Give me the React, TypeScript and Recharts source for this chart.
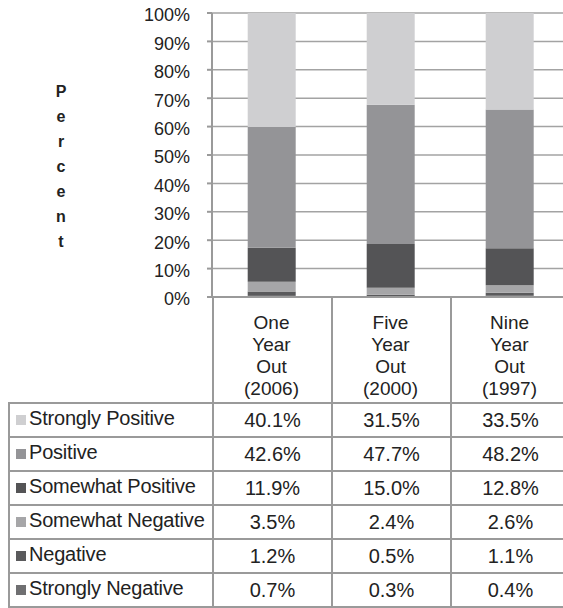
import { BarChart, Bar, XAxis, YAxis, CartesianGrid } from 'recharts';

const categories = ["One Year Out (2006)", "Five Year Out (2000)", "Nine Year Out (1997)"];
const categoryLines = [
  ["One", "Year", "Out", "(2006)"],
  ["Five", "Year", "Out", "(2000)"],
  ["Nine", "Year", "Out", "(1997)"],
];

// bottom of stack first
const seriesNames = [
  "Strongly Negative",
  "Negative",
  "Somewhat Negative",
  "Somewhat Positive",
  "Positive",
  "Strongly Positive",
];
const stronglyNegative = [0.7, 0.3, 0.4];
const negative = [1.2, 0.5, 1.1];
const somewhatNegative = [3.5, 2.4, 2.6];
const somewhatPositive = [11.9, 15.0, 12.8];
const positive = [42.6, 47.7, 48.2];
const stronglyPositive = [40.1, 31.5, 33.5];

const seriesValues = [stronglyNegative, negative, somewhatNegative, somewhatPositive, positive, stronglyPositive];
const seriesColors = ["#6f6f71", "#5a5a5c", "#a6a6a8", "#545456", "#949497", "#cfcfd1"];

const yTicks = [0, 0.1, 0.2, 0.3, 0.4, 0.5, 0.6, 0.7, 0.8, 0.9, 1];

const data = categories.map((c, i) => {
  const row: any = { name: c, idx: i };
  seriesNames.forEach((s, k) => { row[s] = seriesValues[k][i]; });
  return row;
});

// table rows go top-down (Strongly Positive first)
const tableOrder = [5, 4, 3, 2, 1, 0];

const FONT = '"Liberation Sans", Arial, sans-serif';
const LINE = "#9a9a9a";

const CategoryTick = (props: any) => {
  const { x, y, payload } = props;
  const lines = categoryLines[payload.index] || [payload.value];
  return (
    <text x={x} y={y} textAnchor="middle" fontSize={19} fill="#222" fontFamily={FONT}>
      {lines.map((l: string, i: number) => (
        <tspan key={i} x={x} dy={i === 0 ? 24 : 22}>{l}</tspan>
      ))}
    </text>
  );
};

export default function App() {
  return (
    <div style={{ position: 'absolute', left: 0, top: 0, width: 563, height: 608, overflow: 'hidden', background: '#fff', fontFamily: FONT, color: '#222' }}>
      <div style={{ position: 'absolute', left: 52, top: 79, width: 18, textAlign: 'center', fontWeight: 'bold', fontSize: 16, lineHeight: '25px' }}>
        {"Percent".split("").map((ch, i) => <div key={i}>{ch}</div>)}
      </div>
      <div style={{ position: 'absolute', left: 0, top: 0 }}>
        <BarChart width={580} height={403} data={data} stackOffset="expand" barCategoryGap="30%"
          margin={{ top: 13, right: 11, left: 0, bottom: 0 }}>
          <CartesianGrid vertical={false} stroke="#a3a3a3" strokeWidth={1.5} />
          <XAxis dataKey="name" height={106} tickLine={false} axisLine={{ stroke: LINE, strokeWidth: 2 }}
            tick={<CategoryTick />} interval={0} />
          <YAxis width={212} domain={[0, 1]} ticks={yTicks} tickSize={5} tickMargin={17}
            tickFormatter={(v: number) => `${Math.round(v * 100)}%`}
            axisLine={{ stroke: LINE, strokeWidth: 2 }} tickLine={{ stroke: LINE, strokeWidth: 2 }}
            tick={{ fontSize: 18, fill: '#222', fontFamily: FONT, dy: 2 }} />
          {seriesNames.map((s, k) => (
            <Bar key={s} dataKey={s} stackId="a" fill={seriesColors[k]} isAnimationActive={false} />
          ))}
        </BarChart>
      </div>
      <table style={{ position: 'absolute', left: 8, top: 297, borderCollapse: 'collapse', tableLayout: 'fixed', width: 561, fontSize: 20 }}>
        <colgroup>
          <col style={{ width: 204 }} />
          <col style={{ width: 119 }} />
          <col style={{ width: 119 }} />
          <col style={{ width: 119 }} />
        </colgroup>
        <tbody>
          <tr style={{ height: 106 }}>
            <td style={{ border: 'none', padding: 0 }}></td>
            {categories.map((c) => (
              <td key={c} style={{ borderLeft: `2px solid ${LINE}`, borderRight: `2px solid ${LINE}`, padding: 0 }}></td>
            ))}
          </tr>
          {tableOrder.map((k) => (
            <tr key={seriesNames[k]} style={{ height: 34 }}>
              <td style={{ border: `2px solid ${LINE}`, padding: '0 0 3px 6px', whiteSpace: 'nowrap', overflow: 'hidden', letterSpacing: -0.2 }}>
                <span style={{ display: 'inline-block', width: 10, height: 10, background: seriesColors[k], marginRight: 3 }}></span>
                {seriesNames[k]}
              </td>
              {seriesValues[k].map((v, i) => (
                <td key={i} style={{ border: `2px solid ${LINE}`, padding: '0 0 0 0', textAlign: 'center' }}>{v.toFixed(1)}%</td>
              ))}
            </tr>
          ))}
        </tbody>
      </table>
    </div>
  );
}
